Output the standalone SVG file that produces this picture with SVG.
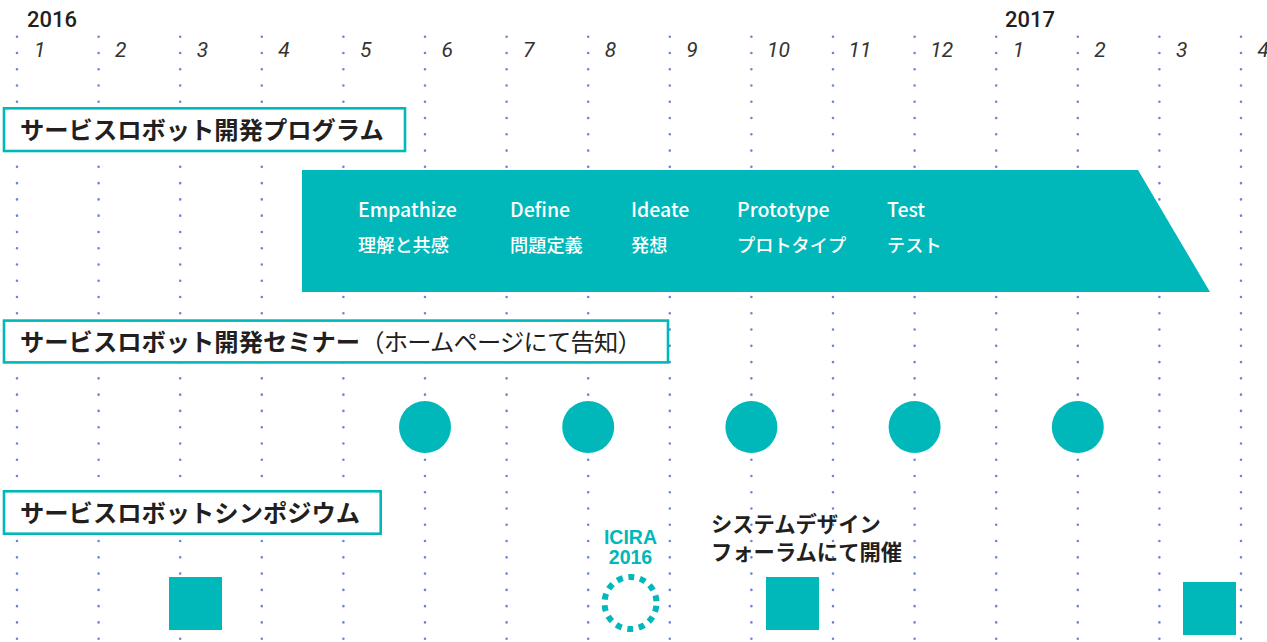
<svg xmlns="http://www.w3.org/2000/svg" width="1267" height="642" viewBox="0 0 1267 642">
  <style>
    .grid line { stroke: #6b86d6; stroke-width: 2.6; stroke-linecap: round; stroke-dasharray: 0 16.27; }
    .year { font-family: Roboto, "Liberation Sans", sans-serif; font-weight: 500; font-size: 22px; fill: #231f20; }
    .month { font-family: Roboto, "Liberation Sans", sans-serif; font-style: italic; font-size: 21px; fill: #333333; }
    .hbox { fill: #ffffff; stroke: #00b8ba; stroke-width: 2.6; }
    .htext { font-family: "Noto Sans CJK JP", "Noto Sans", sans-serif; font-weight: 700; font-size: 24.3px; fill: #231f20; }
    .reg { font-weight: 400; letter-spacing: -0.8px; }
    .teal { fill: #00b8ba; }
    .band { font-family: "Noto Sans CJK JP", "Noto Sans", sans-serif; font-weight: 500; font-size: 19.5px; fill: #ffffff; }
    .bandj { font-size: 18.2px; }
    .note { font-family: "Noto Sans CJK JP", sans-serif; font-weight: 700; font-size: 21.3px; fill: #231f20; }
    .icira { font-family: "Liberation Sans", Arial, sans-serif; font-weight: 700; font-size: 19.5px; fill: #00b8ba; text-anchor: middle; }
  </style>

  <g id="grid" class="grid">
    <line x1="17" y1="36.7" x2="17" y2="642"/>
    <line x1="98.6" y1="36.7" x2="98.6" y2="642"/>
    <line x1="180.2" y1="36.7" x2="180.2" y2="642"/>
    <line x1="261.8" y1="36.7" x2="261.8" y2="642"/>
    <line x1="343.4" y1="36.7" x2="343.4" y2="642"/>
    <line x1="425" y1="36.7" x2="425" y2="642"/>
    <line x1="506.6" y1="36.7" x2="506.6" y2="642"/>
    <line x1="588.2" y1="36.7" x2="588.2" y2="642"/>
    <line x1="669.8" y1="36.7" x2="669.8" y2="642"/>
    <line x1="751.4" y1="36.7" x2="751.4" y2="642"/>
    <line x1="833" y1="36.7" x2="833" y2="642"/>
    <line x1="914.6" y1="36.7" x2="914.6" y2="642"/>
    <line x1="996.2" y1="36.7" x2="996.2" y2="642"/>
    <line x1="1077.8" y1="36.7" x2="1077.8" y2="642"/>
    <line x1="1159.4" y1="36.7" x2="1159.4" y2="642"/>
    <line x1="1241" y1="36.7" x2="1241" y2="642"/>
  </g>

  <g id="timeline">
    <text class="year" x="27" y="27">2016</text>
    <text class="year" x="1005" y="27">2017</text>
    <text class="month" x="34" y="57">1</text>
    <text class="month" x="115" y="57">2</text>
    <text class="month" x="196.7" y="57">3</text>
    <text class="month" x="278.3" y="57">4</text>
    <text class="month" x="359.9" y="57">5</text>
    <text class="month" x="441.5" y="57">6</text>
    <text class="month" x="523.1" y="57">7</text>
    <text class="month" x="604.7" y="57">8</text>
    <text class="month" x="686.3" y="57">9</text>
    <text class="month" x="767" y="57">10</text>
    <text class="month" x="848.6" y="57">11</text>
    <text class="month" x="930.2" y="57">12</text>
    <text class="month" x="1012.7" y="57">1</text>
    <text class="month" x="1094.3" y="57">2</text>
    <text class="month" x="1175.9" y="57">3</text>
    <text class="month" x="1257.5" y="57">4</text>
  </g>

  <g id="program">
    <rect class="hbox" x="4" y="108.3" width="401" height="42.7"/>
    <text class="htext" x="20" y="139">サービスロボット開発プログラム</text>
    <polygon class="teal" points="302,170 1138,170 1210,292 302,292"/>
    <text class="band" x="358" y="217">Empathize</text>
    <text class="band bandj" x="358" y="252">理解と共感</text>
    <text class="band" x="510" y="217">Define</text>
    <text class="band bandj" x="510" y="252">問題定義</text>
    <text class="band" x="631" y="217">Ideate</text>
    <text class="band bandj" x="631" y="252">発想</text>
    <text class="band" x="737" y="217">Prototype</text>
    <text class="band bandj" x="737" y="252">プロトタイプ</text>
    <text class="band" x="887" y="217">Test</text>
    <text class="band bandj" x="887" y="252">テスト</text>
  </g>

  <g id="seminar">
    <rect class="hbox" x="4" y="320.6" width="664" height="41.8"/>
    <text class="htext" x="20" y="351">サービスロボット開発セミナー<tspan class="reg">（ホームページにて告知）</tspan></text>
    <circle class="teal" cx="425" cy="427" r="26"/>
    <circle class="teal" cx="588.2" cy="427" r="26"/>
    <circle class="teal" cx="751.4" cy="427" r="26"/>
    <circle class="teal" cx="914.6" cy="427" r="26"/>
    <circle class="teal" cx="1077.8" cy="427" r="26"/>
  </g>

  <g id="symposium">
    <rect class="hbox" x="4" y="491.3" width="376.7" height="42.4"/>
    <text class="htext" x="20" y="522">サービスロボットシンポジウム</text>
    <rect class="teal" x="169" y="577" width="53" height="53"/>
    <text class="icira" x="630.5" y="544">ICIRA</text>
    <text class="icira" x="630.5" y="563.5">2016</text>
    <circle cx="630.5" cy="603" r="26" fill="none" stroke="#00b8ba" stroke-width="6" stroke-dasharray="6 5.67" stroke-dashoffset="-2.84"/>
    <text class="note" x="711" y="532">システムデザイン</text>
    <text class="note" x="711" y="559.5">フォーラムにて開催</text>
    <rect class="teal" x="766" y="577" width="53" height="53"/>
    <rect class="teal" x="1183" y="582" width="53" height="53"/>
  </g>
</svg>
